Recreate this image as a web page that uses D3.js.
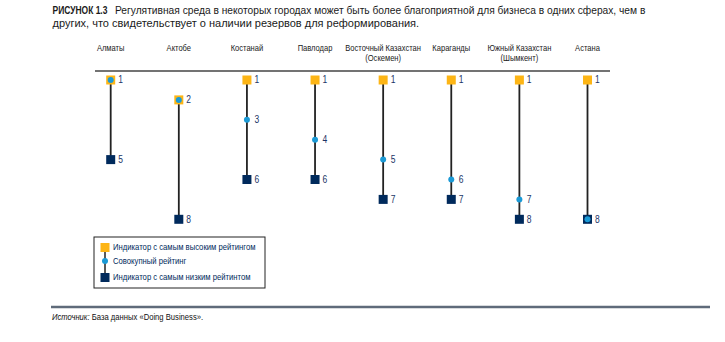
<!DOCTYPE html>
<html>
<head>
<meta charset="utf-8">
<script src="https://cdn.jsdelivr.net/npm/d3@7"></script>
<style>
  body { margin: 0; background: #fff; }
  svg { display: block; font-family: "Liberation Sans", Arial, sans-serif; }
</style>
</head>
<body>
<svg id="chart" width="725" height="342"></svg>
<script>
const cities = [
  ["Алматы"], ["Актобе"], ["Костанай"], ["Павлодар"],
  ["Восточный Казахстан", "(Оскемен)"], ["Караганды"],
  ["Южный Казахстан", "(Шымкент)"], ["Астана"]
];
const highRank = [1, 2, 1, 1, 1, 1, 1, 1];
const aggRank  = [1, 2, 3, 4, 5, 6, 7, 8];
const lowRank  = [5, 8, 6, 6, 7, 7, 8, 8];
const legendLabels = [
  "Индикатор с самым высоким рейтингом",
  "Совокупный рейтинг",
  "Индикатор с самым низким рейтинтом"
];

const C_ORANGE = "#FDB515", C_BLUE = "#1B9AD6", C_NAVY = "#002A5C", C_LABEL = "#1A3466";

const svg = d3.select("#chart");

// condensed text helper: horizontally scale around anchor point
function ctext(parent, x, y, str, size, k, opts = {}) {
  const t = parent.append("text").attr("x", x).attr("y", y)
    .attr("font-size", size).attr("fill", opts.fill || "#1a1a1a")
    .attr("text-anchor", opts.anchor || "start")
    .attr("transform", `translate(${x},0) scale(${k},1) translate(${-x},0)`)
    .text(str);
  if (opts.weight) t.attr("font-weight", opts.weight);
  if (opts.style) t.attr("font-style", opts.style);
  return t;
}

// Title
ctext(svg, 52.5, 14, "РИСУНОК 1.3", 11, 0.77, { weight: "bold" });
ctext(svg, 115, 14, "Регулятивная среда в некоторых городах может быть более благоприятной для бизнеса в одних сферах, чем в", 11, 0.93);
ctext(svg, 52.5, 27, "других, что свидетельствует о наличии резервов для реформирования.", 11, 1.0);

const names = cities.map(d => d.join(" "));
const x = d3.scalePoint().domain(names).range([110.7, 587.5]);
const y = d3.scaleLinear().domain([1, 8]).range([80, 219.3]);

// City headers
cities.forEach((lines, i) => {
  const cx = x(names[i]);
  lines.forEach((ln, j) => {
    ctext(svg, cx, 51 + j * 10, ln, 8.8, 0.86, { anchor: "middle" });
  });
});

// Header rule
svg.append("line").attr("x1", 95).attr("x2", 610).attr("y1", 71).attr("y2", 71)
  .attr("stroke", "#444").attr("stroke-width", 1.5);

const data = names.map((n, i) => ({ name: n, hi: highRank[i], agg: aggRank[i], lo: lowRank[i] }));
const g = svg.append("g");
const sq = 9;

g.selectAll("line.stem").data(data).join("line")
  .attr("x1", d => x(d.name)).attr("x2", d => x(d.name))
  .attr("y1", d => y(d.hi)).attr("y2", d => y(d.lo))
  .attr("stroke", "#222").attr("stroke-width", 1.8);

g.selectAll("rect.hi").data(data).join("rect")
  .attr("x", d => x(d.name) - sq / 2).attr("y", d => y(d.hi) - sq / 2)
  .attr("width", sq).attr("height", sq).attr("fill", C_ORANGE);

g.selectAll("rect.lo").data(data).join("rect")
  .attr("x", d => x(d.name) - sq / 2).attr("y", d => y(d.lo) - sq / 2)
  .attr("width", sq).attr("height", sq).attr("fill", C_NAVY);

g.selectAll("circle.agg").data(data).join("circle")
  .attr("cx", d => x(d.name)).attr("cy", d => y(d.agg))
  .attr("r", 3).attr("fill", C_BLUE);

// Rank labels (unique per city)
data.forEach(d => {
  const ranks = Array.from(new Set([d.hi, d.agg, d.lo]));
  ranks.forEach(r => {
    ctext(svg, x(d.name) + 7.5, y(r) + 3.5, String(r), 10, 0.85, { fill: C_LABEL });
  });
});

// Legend
svg.append("rect").attr("x", 94).attr("y", 237).attr("width", 171).attr("height", 51)
  .attr("fill", "none").attr("stroke", "#222").attr("stroke-width", 1);
const lx = 105;
svg.append("line").attr("x1", lx).attr("x2", lx).attr("y1", 247).attr("y2", 277)
  .attr("stroke", "#222").attr("stroke-width", 1.5);
svg.append("rect").attr("x", lx - 4.5).attr("y", 243).attr("width", 9).attr("height", 9).attr("fill", C_ORANGE);
svg.append("circle").attr("cx", lx).attr("cy", 261).attr("r", 3).attr("fill", C_BLUE);
svg.append("rect").attr("x", lx - 4.5).attr("y", 273).attr("width", 9).attr("height", 9).attr("fill", C_NAVY);
[247.5, 261, 277.5].forEach((yy, i) => {
  ctext(svg, 113, yy + 3, legendLabels[i], 9, 0.855, { fill: C_NAVY });
});

// Footer
svg.append("line").attr("x1", 51).attr("x2", 710).attr("y1", 307).attr("y2", 307)
  .attr("stroke", "#5F6B7A").attr("stroke-width", 2.5);
const src = svg.append("text").attr("x", 52).attr("y", 320).attr("font-size", 8.5).attr("fill", "#111")
  .attr("transform", "translate(52,0) scale(0.9,1) translate(-52,0)");
src.append("tspan").attr("font-style", "italic").text("Источник:");
src.append("tspan").text(" База данных «Doing Business».");
</script>
</body>
</html>
